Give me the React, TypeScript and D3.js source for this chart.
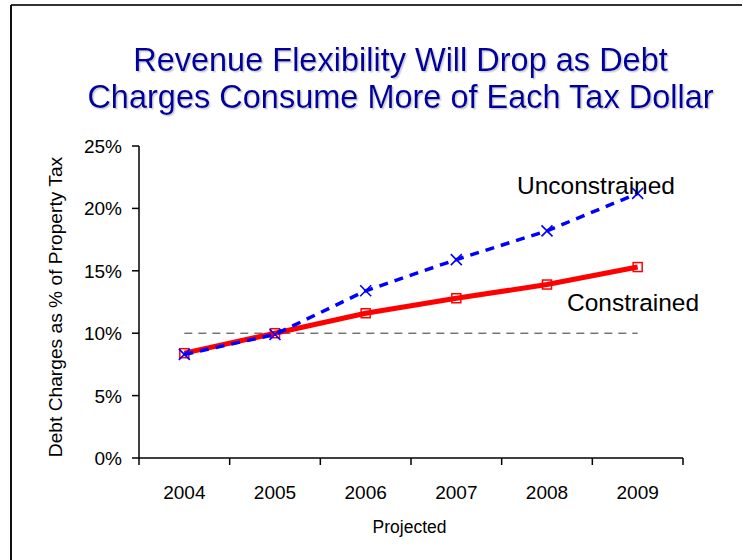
import React from "react";
import * as d3 from "d3";

const years = ["2004", "2005", "2006", "2007", "2008", "2009"];
const constrained = [8.4, 10.0, 11.6, 12.8, 13.9, 15.3];
const unconstrained = [8.3, 9.9, 13.4, 15.9, 18.2, 21.2];
const yTicks = [0, 5, 10, 15, 20, 25];
const referenceLevel = 10;
const titleLines = ["Revenue Flexibility Will Drop as Debt", "Charges Consume More of Each Tax Dollar"];

const W = 742;
const H = 560;
const margin = { left: 139, right: 59, top: 146, bottom: 102 };
const FONT = "Arial, 'Liberation Sans', Helvetica, sans-serif";

export default function App() {
  const x0 = margin.left;
  const x1 = W - margin.right;
  const y0 = H - margin.bottom;
  const y1 = margin.top;

  const x = d3.scaleBand<string>().domain(years).range([x0, x1]).paddingInner(0).paddingOuter(0);
  const y = d3.scaleLinear().domain([0, 25]).range([y0, y1]);
  const cx = (i: number) => (x(years[i]) as number) + x.bandwidth() / 2;

  const line = d3
    .line<number>()
    .x((_, i) => cx(i))
    .y((d) => y(d));

  const boundaries = d3.range(years.length + 1).map((i) => x0 + i * x.bandwidth());

  return (
    <svg
      width={W}
      height={H}
      style={{ position: "absolute", left: 0, top: 0, background: "#fff" }}
      fontFamily={FONT}
    >
      <defs>
        <filter id="titleShadow" x="-5%" y="-20%" width="110%" height="140%">
          <feDropShadow dx={1.5} dy={1.5} stdDeviation={0.6} floodColor="#9090a0" floodOpacity={0.45} />
        </filter>
      </defs>
      <rect x={0} y={0} width={W} height={H} fill="#fff" />
      {/* frame */}
      <line x1={11} y1={5} x2={W} y2={5} stroke="#333" strokeWidth={2} />
      <line x1={11} y1={5} x2={11} y2={H} stroke="#111" strokeWidth={2} />

      {/* title */}
      {titleLines.map((t, i) => (
        <text
          key={i}
          x={400.5}
          y={71 + i * 36.5}
          textAnchor="middle"
          fontSize={32.5}
          fill="#00009C"
          filter="url(#titleShadow)"
        >
          {t}
        </text>
      ))}

      {/* y axis */}
      <line x1={x0} y1={y1} x2={x0} y2={y0} stroke="#000" strokeWidth={1.5} />
      {yTicks.map((t) => (
        <g key={t}>
          <line x1={x0 - 7} x2={x0} y1={y(t)} y2={y(t)} stroke="#000" strokeWidth={1.5} />
          <text x={x0 - 17} y={y(t) + 7} textAnchor="end" fontSize={19} fill="#000">
            {t}%
          </text>
        </g>
      ))}

      {/* x axis */}
      <line x1={x0} y1={y0} x2={x1} y2={y0} stroke="#000" strokeWidth={1.5} />
      {boundaries.map((b, i) => (
        <line key={i} x1={b} x2={b} y1={y0} y2={y0 + 7} stroke="#000" strokeWidth={1.5} />
      ))}
      {years.map((yr, i) => (
        <text key={yr} x={cx(i)} y={499} textAnchor="middle" fontSize={19} fill="#000">
          {yr}
        </text>
      ))}
      <text x={409.5} y={533} textAnchor="middle" fontSize={17.5} fill="#000">
        Projected
      </text>
      <text
        transform={`translate(62,${307}) rotate(-90)`}
        textAnchor="middle"
        fontSize={19.2}
        fill="#000"
      >
        Debt Charges as % of Property Tax
      </text>

      {/* reference dashed line */}
      <line
        x1={cx(0)}
        x2={cx(years.length - 1)}
        y1={y(referenceLevel)}
        y2={y(referenceLevel)}
        stroke="#333"
        strokeWidth={1}
        strokeDasharray="8,6"
      />

      {/* constrained */}
      <path d={line(constrained) || ""} fill="none" stroke="#ff0000" strokeWidth={5} />
      {constrained.map((v, i) => (
        <rect
          key={i}
          x={cx(i) - 4.5}
          y={y(v) - 4.5}
          width={9}
          height={9}
          fill="none"
          stroke="#ff0000"
          strokeWidth={1.5}
        />
      ))}

      {/* unconstrained */}
      <path
        d={line(unconstrained) || ""}
        fill="none"
        stroke="#0000ff"
        strokeWidth={3.5}
        strokeDasharray="9,7"
      />
      {unconstrained.map((v, i) => (
        <path
          key={i}
          d={`M${cx(i) - 5.5},${y(v) - 5.5}L${cx(i) + 5.5},${y(v) + 5.5}M${cx(i) - 5.5},${y(v) + 5.5}L${cx(i) + 5.5},${y(v) - 5.5}`}
          stroke="#0000ff"
          strokeWidth={1.6}
          fill="none"
        />
      ))}

      {/* series labels */}
      <text x={517} y={194} fontSize={24.5} fill="#000">
        Unconstrained
      </text>
      <text x={567} y={311} fontSize={24.5} fill="#000">
        Constrained
      </text>
    </svg>
  );
}
